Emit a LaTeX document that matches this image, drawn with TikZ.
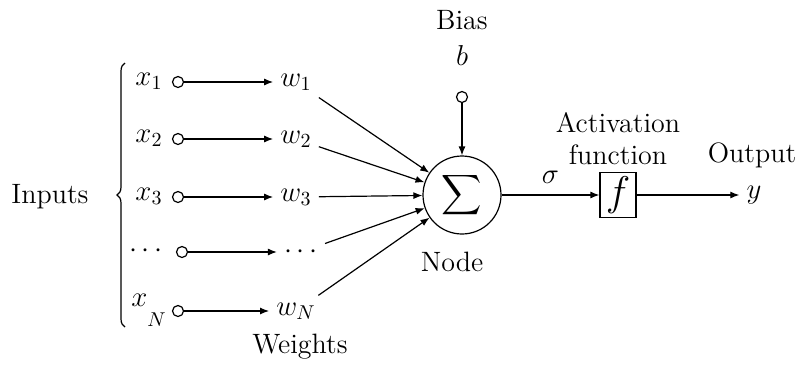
\documentclass[tikz,border=0pt]{standalone}
\usetikzlibrary{arrows.meta, decorations.pathreplacing}

\begin{document}
\begin{tikzpicture}[>={Latex[length=4.5pt,width=3.5pt]}, x=0.5pt, y=-0.5pt, line width=0.6pt,
    every node/.style={font=\fontsize{14}{16}\selectfont},
    port/.style={circle, draw, inner sep=0pt, minimum size=5.5pt}]

    \useasboundingbox (0,0) rectangle (799,365);

    % Inputs
    \node (inputs) at (50,197) {Inputs};
    \draw[decorate, decoration={brace, amplitude=4pt}] (125,327) -- (125,63);

    \node (x1) at (149,81) {$x_1$};
    \node (x2) at (149,138) {$x_2$};
    \node (x3) at (149,196) {$x_3$};
    \node (xd) at (146,251) {$\cdots$};
    \node (xN) at (149,310) {$x_{\raisebox{-1.3ex}{$\scriptstyle N$}}$};

    \node[port] (c1) at (178,82) {};
    \node[port] (c2) at (178,139) {};
    \node[port] (c3) at (178,197) {};
    \node[port] (cd) at (182,252) {};
    \node[port] (cN) at (178,311) {};

    % Weights
    \node (w1) at (296,82) {$w_1$};
    \node (w2) at (296,139) {$w_2$};
    \node (w3) at (296,197) {$w_3$};
    \node (wd) at (301,252) {$\cdots$};
    \node (wN) at (296,311) {$w_N$};
    \node (weights) at (300,347) {Weights};

    \draw[->] (c1) -- (w1);
    \draw[->] (c2) -- (w2);
    \draw[->] (c3) -- (w3);
    \draw[->] (cd) -- (wd);
    \draw[->] (cN) -- (wN);

    % Node
    \node[circle, draw, minimum size=39pt, inner sep=0pt] (sum) at (462,195) {\scalebox{1.4}{\huge$\displaystyle\sum$}};
    \node (nodetext) at (452,262) {Node};

    \draw[->] (w1) -- (sum);
    \draw[->] (w2) -- (sum);
    \draw[->] (w3) -- (sum);
    \draw[->] (wd) -- (sum);
    \draw[->] (wN) -- (sum);

    % Bias
    \node (bias) at (462,20) {Bias};
    \node (b) at (462,55) {$b$};
    \node[port] (cb) at (462,97) {};
    \draw[->] (cb) -- (sum);

    % Activation
    \node[draw, minimum width=18pt, minimum height=22.5pt, inner sep=0pt] (act) at (618,195) {\huge$f$};
    \node[align=center] (acttext) at (618,139) {Activation\\function};
    \draw[->] (sum) -- node[above=2pt] {$\sigma$} (act);

    % Output
    \node (output) at (752,155) {Output};
    \node (y) at (754,195) {$y$};
    \draw[->] (act) -- (y);
\end{tikzpicture}
\end{document}
